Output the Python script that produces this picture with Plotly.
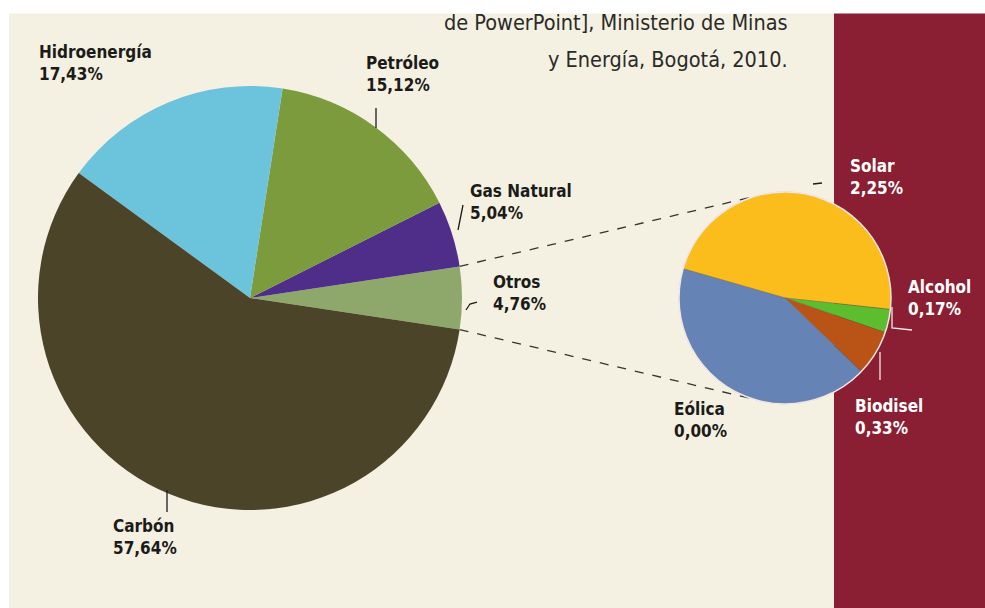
import math
import plotly.graph_objects as go

# ---------------- data ----------------
main_labels = ["Otros", "Gas Natural", "Petróleo", "Hidroenergía", "Carbón"]
main_values = [4.76, 5.04, 15.12, 17.43, 57.64]
main_colors = ["#8ea86b", "#4e2e88", "#7c9b3c", "#6cc3dc", "#4b4429"]

otros_labels = ["Solar", "Alcohol", "Biodisel", "Eólica"]
otros_share = [2.25, 0.17, 0.33, 2.01]       # slice sizes as drawn
otros_printed = [2.25, 0.17, 0.33, 0.00]     # percentages printed on the chart
otros_colors = ["#fbbd1c", "#5cbd2e", "#ba5416", "#6683b6"]

source_lines = ["de PowerPoint], Ministerio de Minas", "y Energía, Bogotá, 2010."]

# ---------------- layout helpers ----------------
W, H = 985, 608
CREAM = "#f4f1e2"
RED = "#8a1e32"
DARK = "#1b1b19"


def px(x):
    return x / W


def py(y):
    return 1 - y / H


def fmt(v):
    return f"{v:.2f}".replace(".", ",") + "%"


# pie geometry (pixels)
C1, R1 = (250, 298), 212
C2, R2 = (785, 298), 106

half_deg = main_values[0] / sum(main_values) * 360 / 2

fig = go.Figure()

fig.add_trace(go.Pie(
    labels=main_labels, values=main_values, sort=False,
    direction="counterclockwise",
    rotation=90 - half_deg,
    marker=dict(colors=main_colors, line=dict(width=0)),
    textinfo="none", hoverinfo="label+percent", showlegend=False,
    domain=dict(x=[px(C1[0] - R1), px(C1[0] + R1)], y=[py(C1[1] + R1), py(C1[1] - R1)]),
))

fig.add_trace(go.Pie(
    labels=otros_labels, values=otros_share, sort=False,
    direction="clockwise", rotation=-74,
    marker=dict(colors=otros_colors, line=dict(width=0.4, color="#6a5a4a")),
    textinfo="none", hoverinfo="label", showlegend=False,
    domain=dict(x=[px(C2[0] - R2), px(C2[0] + R2)], y=[py(C2[1] + R2), py(C2[1] - R2)]),
))

shapes = []
# backgrounds
shapes.append(dict(type="rect", xref="paper", yref="paper", x0=px(9), x1=px(834), y0=0, y1=py(13.5),
                   fillcolor=CREAM, line=dict(width=0), layer="below"))
shapes.append(dict(type="rect", xref="paper", yref="paper", x0=px(834), x1=1, y0=0, y1=py(13.5),
                   fillcolor=RED, line=dict(width=0), layer="below"))

# connector dashed lines from Otros slice edges to the second pie
half = math.radians(half_deg)
p_top = (C1[0] + R1 * math.cos(half), C1[1] - R1 * math.sin(half))
p_bot = (C1[0] + R1 * math.cos(-half), C1[1] - R1 * math.sin(-half))
a_top, a_bot = math.radians(106), math.radians(-108)
q_top = (C2[0] + R2 * math.cos(a_top), C2[1] - R2 * math.sin(a_top))
q_bot = (C2[0] + R2 * math.cos(a_bot), C2[1] - R2 * math.sin(a_bot))
for p, q in [(p_top, q_top), (p_bot, q_bot)]:
    shapes.append(dict(type="line", xref="paper", yref="paper",
                       x0=px(p[0]), y0=py(p[1]), x1=px(q[0]), y1=py(q[1]),
                       line=dict(color="#35352f", width=1.3, dash="dash"), layer="below"))

# light outline of the small pie
shapes.append(dict(type="circle", xref="paper", yref="paper",
                   x0=px(C2[0] - R2), x1=px(C2[0] + R2), y0=py(C2[1] + R2), y1=py(C2[1] - R2),
                   line=dict(color="#f3e6e4", width=1.5), layer="above"))


# leader lines
def seg(pts, color):
    path = "M " + " L ".join(f"{px(x)},{py(y)}" for x, y in pts)
    shapes.append(dict(type="path", xref="paper", yref="paper", path=path,
                       line=dict(color=color, width=1.3)))


seg([(376, 108), (376, 128)], DARK)              # Petróleo
seg([(458, 230), (463, 205)], DARK)              # Gas Natural
seg([(466, 310), (470, 304), (477, 302)], DARK)  # Otros
seg([(167, 490), (167, 512)], DARK)              # Carbón
seg([(813, 184), (822, 183)], DARK)              # Solar
seg([(892, 307), (892, 328), (912, 330)], "#f4e8e8")  # Alcohol
seg([(880, 352), (880, 380)], "#f4e8e8")        # Biodisel

FONT = "DejaVu Sans Condensed, DejaVu Sans, sans-serif"
annotations = []


def label(name, value, x, y, color):
    annotations.append(dict(
        xref="paper", yref="paper", x=px(x), y=py(y), xanchor="left", yanchor="top",
        text=f"<b>{name}</b><br><b>{fmt(value)}</b>", showarrow=False, align="left",
        font=dict(family=FONT, size=17, color=color),
    ))


main_pos = {"Hidroenergía": (37, 40), "Petróleo": (364, 51), "Gas Natural": (468, 179),
            "Otros": (491, 270), "Carbón": (111, 514)}
for name, val in zip(main_labels, main_values):
    x, y = main_pos[name]
    label(name, val, x, y, DARK)

small_pos = {"Solar": (848, 154, "white"), "Alcohol": (906, 275, "white"),
             "Biodisel": (853, 394, "white"), "Eólica": (672, 397, DARK)}
for name, val in zip(otros_labels, otros_printed):
    x, y, c = small_pos[name]
    label(name, val, x, y, c)

for line, base in zip(source_lines, [31, 68]):
    annotations.append(dict(
        xref="paper", yref="paper", x=px(790), y=py(base + 6), xanchor="right", yanchor="bottom",
        text=line, showarrow=False, align="right",
        font=dict(family=FONT, size=21.5, color="#2a2a28"),
    ))

fig.update_layout(
    width=W, height=H, margin=dict(l=0, r=0, t=0, b=0),
    paper_bgcolor="white", plot_bgcolor="white",
    shapes=shapes, annotations=annotations, showlegend=False,
)

fig.write_html("out.html")
